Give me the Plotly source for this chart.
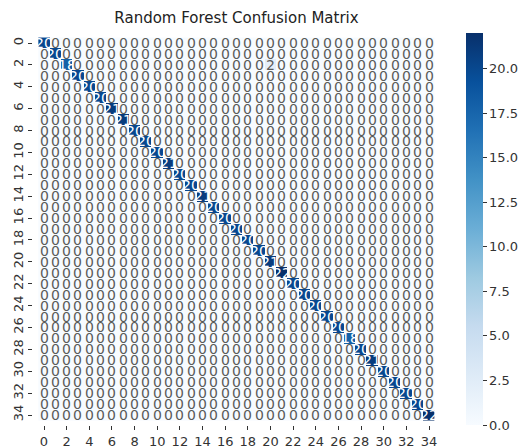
import plotly.graph_objects as go

n_classes = 35
labels = list(range(n_classes))
diag_values = [20, 20, 18, 20, 20, 20, 21, 21, 20, 20,
               20, 21, 20, 20, 21, 20, 20, 20, 20, 20,
               21, 22, 20, 20, 20, 20, 20, 18, 20, 21,
               20, 20, 20, 20, 22]
off_diag = [(2, 20, 2)]  # (row, col, value)

z = [[0] * n_classes for _ in range(n_classes)]
for i, v in enumerate(diag_values):
    z[i][i] = v
for r, c, v in off_diag:
    z[r][c] = v

blues = ["#f7fbff", "#deebf7", "#c6dbef", "#9ecae1", "#6baed6",
         "#4292c6", "#2171b5", "#08519c", "#08306b"]
colorscale = [[i / (len(blues) - 1), c] for i, c in enumerate(blues)]

zmax = 22
FONT = "DejaVu Sans"

fig = go.Figure(go.Heatmap(
    z=z, x=labels, y=labels,
    colorscale=colorscale, zmin=0, zmax=zmax, hoverinfo="skip",
    colorbar=dict(thickness=17, len=1.0, lenmode="fraction", x=1.064, xanchor="left",
                  xpad=0, ypad=0, y=0.5, yanchor="middle", outlinewidth=0,
                  tickmode="array", tickvals=[0, 2.5, 5, 7.5, 10, 12.5, 15, 17.5, 20],
                  ticktext=["0.0", "2.5", "5.0", "7.5", "10.0", "12.5", "15.0", "17.5", "20.0"],
                  ticks="outside", ticklen=4, tickcolor="#333",
                  tickfont=dict(size=13, family=FONT, color="#333")),
))

annots = []
for i in range(n_classes):
    for j in range(n_classes):
        col = "white" if z[i][j] > zmax * 0.5 else "#5a5a5a"
        annots.append(dict(x=j, y=i, text=str(z[i][j]), showarrow=False,
                           font=dict(size=14, family=FONT, color=col)))
fig.update_layout(annotations=annots)

fig.update_xaxes(tickmode="array", tickvals=labels[::2], ticktext=[str(v) for v in labels[::2]],
                 ticks="outside", ticklen=4, tickcolor="#333", showgrid=False, zeroline=False,
                 automargin=False,
                 tickfont=dict(size=13, family=FONT, color="#333"), tickangle=0)
fig.update_yaxes(tickmode="array", tickvals=labels[::2], ticktext=[str(v) for v in labels[::2]],
                 ticks="outside", ticklen=4, tickcolor="#333", showgrid=False, zeroline=False,
                 autorange="reversed", tickangle=-90, automargin=False,
                 tickfont=dict(size=13, family=FONT, color="#333"))

fig.update_layout(
    width=527, height=448,
    margin=dict(l=33, r=87, t=33, b=23, autoexpand=False),
    paper_bgcolor="white", plot_bgcolor="white",
    title=dict(text="Random Forest Confusion Matrix", x=0.5, xref="paper", xanchor="center",
               y=1 - 18 / 448, yanchor="middle",
               font=dict(size=15, family=FONT, color="#222")),
)

fig.write_html("out.html", config={"displayModeBar": False},
               post_script="document.body.style.margin='0';document.body.style.overflow='hidden';")
